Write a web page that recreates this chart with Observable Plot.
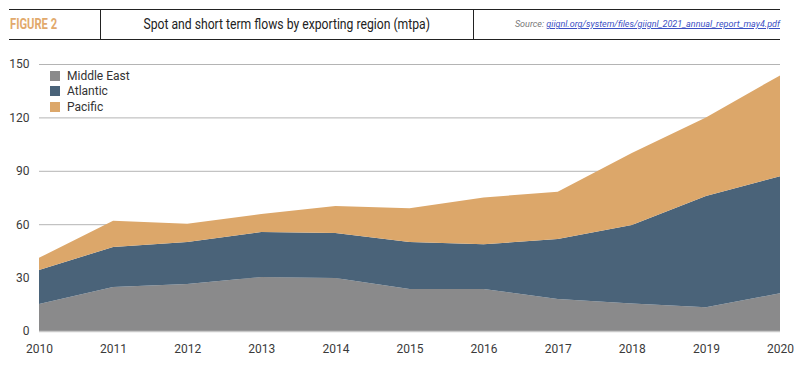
<!DOCTYPE html>
<html>
<head>
<meta charset="utf-8">
<script src="https://cdn.jsdelivr.net/npm/d3@7"></script>
<script src="https://cdn.jsdelivr.net/npm/@observablehq/plot@0.6"></script>
<style>
  html, body { margin: 0; padding: 0; background: #fff; }
  #wrap { position: relative; width: 797px; height: 366px; font-family: "Liberation Sans", Arial, sans-serif; }
  #header { position: absolute; left: 9px; top: 9px; width: 771px; height: 29px; border-top: 1.5px solid #222; border-bottom: 1.5px solid #222; }
  #fig { position: absolute; left: 1px; top: 0; width: 90px; height: 29px; line-height: 29px; font-family: "Roboto", sans-serif; font-weight: bold; font-size: 14px; color: #e2a96c; }
  #fig span { display: inline-block; transform: scaleX(0.8); transform-origin: left center; }
  #title { position: absolute; left: 91px; top: 0; width: 372px; height: 29px; line-height: 29px; text-align: center; border-left: 1.2px solid #222; border-right: 1.2px solid #222; font-family: "Roboto", sans-serif; font-size: 14px; color: #222; }
  #title span { display: inline-block; transform: scaleX(0.87); transform-origin: center center; }
  #source { position: absolute; right: 0; top: 0; height: 29px; line-height: 29px; font-size: 9px; font-style: italic; color: #777; font-family: "Roboto", "Liberation Sans", sans-serif; }
  #source a { color: #3b4fc4; text-decoration: underline; }
  #chart { position: absolute; left: 0; top: 45px; }
  #legend { position: absolute; left: 50px; top: 68px; font-size: 12px; color: #333; font-family: "Roboto", "Liberation Sans", sans-serif; }
  #legend div { display: flex; align-items: center; height: 15.5px; }
  #legend span.sw { display: inline-block; width: 10px; height: 10px; margin-right: 7px; }
</style>
</head>
<body>
<div id="wrap">
  <div id="header">
    <div id="fig"><span>FIGURE 2</span></div>
    <div id="title"><span>Spot and short term flows by exporting region (mtpa)</span></div>
    <div id="source">Source: <a>giignl.org/system/files/giignl_2021_annual_report_may4.pdf</a></div>
  </div>
  <div id="chart"></div>
  <div id="legend"></div>
</div>
<script>
const years = [2010, 2011, 2012, 2013, 2014, 2015, 2016, 2017, 2018, 2019, 2020];
const middleEast = [15.2, 24.7, 26.4, 30.3, 29.8, 23.6, 23.6, 18.0, 15.5, 13.3, 21.2];
const atlantic   = [19.1, 22.5, 23.6, 25.3, 25.2, 26.4, 25.1, 33.7, 44.1, 62.5, 65.8];
const pacific    = [6.8, 14.7, 10.2, 10.1, 15.2, 19.0, 26.3, 26.6, 40.4, 44.2, 56.6];
const seriesNames = ["Middle East", "Atlantic", "Pacific"];
const seriesColors = ["#8a8a8b", "#4a6379", "#dca76a"];
const yTicks = [0, 30, 60, 90, 120, 150];

const seriesValues = [middleEast, atlantic, pacific];
const data = [];
seriesNames.forEach((name, i) => {
  years.forEach((y, j) => data.push({year: y, region: name, value: seriesValues[i][j]}));
});

const plot = Plot.plot({
  width: 797,
  height: 321,
  marginTop: 19,
  marginBottom: 35,
  marginLeft: 39,
  marginRight: 17,
  style: {fontFamily: "Roboto, 'Liberation Sans', sans-serif", fontSize: "12px", color: "#3a3a3a", background: "#fff"},
  x: {domain: [2010, 2020], ticks: years, tickFormat: d3.format("d"), tickSize: 0, tickPadding: 13, label: null},
  y: {domain: [0, 150], ticks: yTicks, tickSize: 0, tickPadding: 10, label: null},
  color: {domain: seriesNames, range: seriesColors},
  marks: [
    Plot.gridY(yTicks, {stroke: "#b4b4b4", strokeOpacity: 1, strokeWidth: 1}),
    Plot.areaY(data, {x: "year", y: "value", fill: "region", order: seriesNames}),
    Plot.ruleY([0], {stroke: "#c8c8c8", strokeWidth: 1.5})
  ]
});
document.getElementById("chart").appendChild(plot);

const legend = document.getElementById("legend");
seriesNames.forEach((name, i) => {
  const row = document.createElement("div");
  row.innerHTML = `<span class="sw" style="background:${seriesColors[i]}"></span>${name}`;
  legend.appendChild(row);
});
</script>
</body>
</html>
